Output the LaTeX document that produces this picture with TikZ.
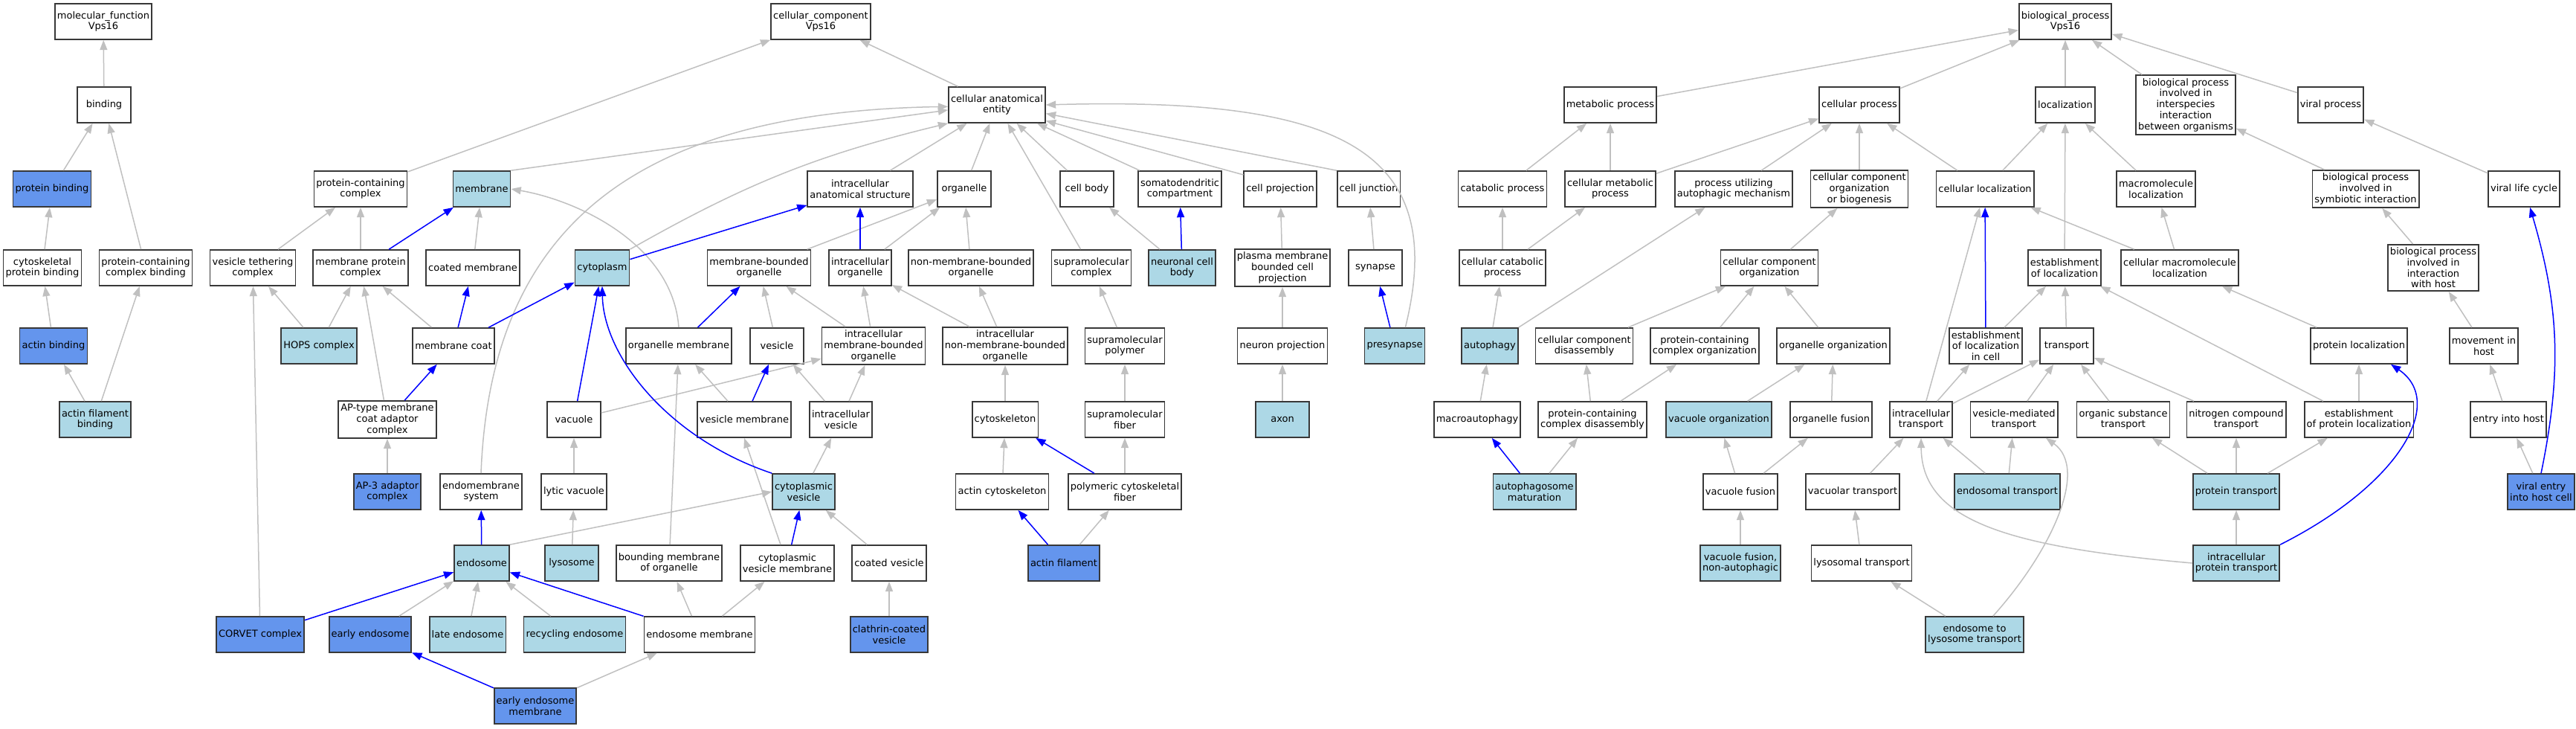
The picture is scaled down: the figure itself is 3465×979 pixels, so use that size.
\documentclass[tikz,border=0pt]{standalone}
\usepackage{fontspec}
\setmainfont{DejaVu Sans}
\usepackage{tikz}
\usetikzlibrary{arrows.meta}
\definecolor{lb}{HTML}{ADD8E6}
\definecolor{cfb}{HTML}{6495ED}
\definecolor{eg}{HTML}{C0C0C0}
\definecolor{eb}{HTML}{0000FF}

\begin{document}
\begin{tikzpicture}[x=0.3mm, y=0.3mm,
	term/.style={draw=black!78, line width=0.5mm, fill=white, text=black, align=center,
		minimum width=21.6mm, minimum height=14.4mm, inner xsep=0.9mm, inner ysep=1.2mm,
		font=\fontsize{11.1}{12.6}\selectfont},
	hit/.style={term, fill=lb},
	ann/.style={term, fill=cfb},
	ge/.style={draw=eg, line width=0.45mm, -{Triangle[length=4mm,width=3mm]}},
	be/.style={ge, draw=eb}]
	\useasboundingbox (0,0) rectangle (3465,-979);
	%molecular function
	\node[term] (mf) at (139,-29) {molecular\_function\\Vps16};
	\node[term] (bind) at (140,-141) {binding};
	\node[ann] (pbind) at (70,-254) {protein binding};
	\node[term] (cspb) at (57,-360) {cytoskeletal\\protein binding};
	\node[term] (pccb) at (196,-360) {protein-containing\\complex binding};
	\node[ann] (abind) at (72,-465) {actin binding};
	\node[hit] (afbind) at (128,-564) {actin filament\\binding};
	%cellular component
	\node[term] (cc) at (1104,-29) {cellular\_component\\Vps16};
	\node[term] (cae) at (1341,-141) {cellular anatomical\\entity};
	\node[term] (pcc) at (485,-254) {protein-containing\\complex};
	\node[hit] (mem) at (648,-254) {membrane};
	\node[term] (ias) at (1157,-254) {intracellular\\anatomical structure};
	\node[term] (org) at (1297,-254) {organelle};
	\node[term] (cbody) at (1462,-254) {cell body};
	\node[term] (somat) at (1587,-254) {somatodendritic\\compartment};
	\node[term] (cproj) at (1722,-254) {cell projection};
	\node[term] (cjunc) at (1841,-254) {cell junction};
	\node[term] (vtc) at (340,-360) {vesicle tethering\\complex};
	\node[term] (mpc) at (485,-360) {membrane protein\\complex};
	\node[term] (cmem) at (636,-360) {coated membrane};
	\node[hit] (cyto) at (810,-360) {cytoplasm};
	\node[term] (mbo) at (1021,-360) {membrane-bounded\\organelle};
	\node[term] (iorg) at (1157,-360) {intracellular\\organelle};
	\node[term] (nmbo) at (1306,-360) {non-membrane-bounded\\organelle};
	\node[term] (smc) at (1468,-360) {supramolecular\\complex};
	\node[hit] (ncb) at (1590,-360) {neuronal cell\\body};
	\node[term] (pmbcp) at (1725,-360) {plasma membrane\\bounded cell\\projection};
	\node[term] (syn) at (1850,-360) {synapse};
	\node[hit] (hops) at (429,-465) {HOPS complex};
	\node[term] (mcoat) at (610,-465) {membrane coat};
	\node[term] (omem) at (913,-465) {organelle membrane};
	\node[term] (ves) at (1045,-465) {vesicle};
	\node[term] (imbo) at (1175,-465) {intracellular\\membrane-bounded\\organelle};
	\node[term] (inmbo) at (1352,-465) {intracellular\\non-membrane-bounded\\organelle};
	\node[term] (smp) at (1513,-465) {supramolecular\\polymer};
	\node[term] (nproj) at (1725,-465) {neuron projection};
	\node[hit] (presyn) at (1876,-465) {presynapse};
	\node[term] (apt) at (521,-564) {AP-type membrane\\coat adaptor\\complex};
	\node[term] (vac) at (772,-564) {vacuole};
	\node[term] (vmem) at (1001,-564) {vesicle membrane};
	\node[term] (ives) at (1131,-564) {intracellular\\vesicle};
	\node[term] (csk) at (1352,-564) {cytoskeleton};
	\node[term] (smf) at (1513,-564) {supramolecular\\fiber};
	\node[hit] (axon) at (1725,-564) {axon};
	\node[ann] (ap3) at (521,-661) {AP-3 adaptor\\complex};
	\node[term] (ems) at (647,-661) {endomembrane\\system};
	\node[term] (lvac) at (772,-661) {lytic vacuole};
	\node[hit] (cves) at (1081,-661) {cytoplasmic\\vesicle};
	\node[term] (acsk) at (1348,-661) {actin cytoskeleton};
	\node[term] (pcf) at (1513,-661) {polymeric cytoskeletal\\fiber};
	\node[hit] (endo) at (648,-757) {endosome};
	\node[hit] (lyso) at (769,-757) {lysosome};
	\node[term] (bmo) at (900,-757) {bounding membrane\\of organelle};
	\node[term] (cvm) at (1059,-757) {cytoplasmic\\vesicle membrane};
	\node[term] (coves) at (1196,-757) {coated vesicle};
	\node[ann] (afil) at (1431,-757) {actin filament};
	\node[ann] (corvet) at (350,-853) {CORVET complex};
	\node[ann] (eendo) at (498,-853) {early endosome};
	\node[hit] (lendo) at (629,-853) {late endosome};
	\node[hit] (rendo) at (773,-853) {recycling endosome};
	\node[term] (emem) at (941,-853) {endosome membrane};
	\node[ann] (ccves) at (1196,-853) {clathrin-coated\\vesicle};
	\node[ann] (eemem) at (720,-949) {early endosome\\membrane};
	%biological process
	\node[term] (bp) at (2778,-29) {biological\_process\\Vps16};
	\node[term] (metp) at (2166,-141) {metabolic process};
	\node[term] (cellp) at (2501,-141) {cellular process};
	\node[term] (loc) at (2778,-141) {localization};
	\node[term] (bpis) at (2940,-141) {biological process\\involved in\\interspecies\\interaction\\between organisms};
	\node[term] (virp) at (3135,-141) {viral process};
	\node[term] (catp) at (2021,-254) {catabolic process};
	\node[term] (cmetp) at (2166,-254) {cellular metabolic\\process};
	\node[term] (puam) at (2332,-254) {process utilizing\\autophagic mechanism};
	\node[term] (ccob) at (2501,-254) {cellular component\\organization\\or biogenesis};
	\node[term] (cloc) at (2670,-254) {cellular localization};
	\node[term] (mloc) at (2900,-254) {macromolecule\\localization};
	\node[term] (bpsi) at (3182,-254) {biological process\\involved in\\symbiotic interaction};
	\node[term] (vlc) at (3395,-254) {viral life cycle};
	\node[term] (ccatp) at (2021,-360) {cellular catabolic\\process};
	\node[term] (cco) at (2380,-360) {cellular component\\organization};
	\node[term] (eloc) at (2777,-360) {establishment\\of localization};
	\node[term] (cmloc) at (2932,-360) {cellular macromolecule\\localization};
	\node[term] (bpih) at (3273,-360) {biological process\\involved in\\interaction\\with host};
	\node[hit] (autoph) at (2004,-465) {autophagy};
	\node[term] (ccd) at (2131,-465) {cellular component\\disassembly};
	\node[term] (pcco) at (2293,-465) {protein-containing\\complex organization};
	\node[term] (oorg) at (2466,-465) {organelle organization};
	\node[term] (eloccell) at (2671,-465) {establishment\\of localization\\in cell};
	\node[term] (transp) at (2780,-465) {transport};
	\node[term] (ploc) at (3173,-465) {protein localization};
	\node[term] (mih) at (3341,-465) {movement in\\host};
	\node[term] (macro) at (1987,-564) {macroautophagy};
	\node[term] (pccd) at (2142,-564) {protein-containing\\complex disassembly};
	\node[hit] (vorg) at (2312,-564) {vacuole organization};
	\node[term] (ofus) at (2463,-564) {organelle fusion};
	\node[term] (itr) at (2584,-564) {intracellular\\transport};
	\node[term] (vmt) at (2709,-564) {vesicle-mediated\\transport};
	\node[term] (ost) at (2856,-564) {organic substance\\transport};
	\node[term] (nct) at (3008,-564) {nitrogen compound\\transport};
	\node[term] (epl) at (3173,-564) {establishment\\of protein localization};
	\node[term] (eih) at (3374,-564) {entry into host};
	\node[hit] (apm) at (2064,-661) {autophagosome\\maturation};
	\node[term] (vfus) at (2341,-661) {vacuole fusion};
	\node[term] (vtr) at (2492,-661) {vacuolar transport};
	\node[hit] (etr) at (2700,-661) {endosomal transport};
	\node[hit] (ptr) at (3008,-661) {protein transport};
	\node[ann] (vehc) at (3418,-661) {viral entry\\into host cell};
	\node[hit] (vfna) at (2341,-757) {vacuole fusion,\\non-autophagic};
	\node[term] (ltr) at (2504,-757) {lysosomal transport};
	\node[hit] (iptr) at (3008,-757) {intracellular\\protein transport};
	\node[hit] (eltt) at (2656,-853) {endosome to\\lysosome transport};
	%grey is_a edges
	\foreach \a/\b in {bind/mf, pbind/bind, pccb/bind, cspb/pbind, abind/cspb, afbind/abind, afbind/pccb,
		cae/cc, pcc/cc, ias/cae, org/cae, smc/cae, cbody/cae, somat/cae, cproj.159/cae.-18, cjunc.north west/cae.-10,
		mpc/pcc, vtc/pcc, cmem/mem, hops/vtc, hops/mpc, mcoat/mpc, apt/mpc, ap3/apt, corvet/vtc,
		mbo/org, iorg/org, nmbo/org, ves/mbo, imbo/mbo, imbo/iorg, inmbo/iorg, inmbo/nmbo,
		vac/imbo, vmem/omem, ives/ves, ives/imbo, csk/inmbo, lvac/vac, cves/ives, acsk/csk, lyso/lvac,
		bmo/omem, cvm.110/vmem.south, coves/cves, endo.north east/cves.west, emem/bmo, emem/cvm, rendo/endo,
		ccves/coves, eemem/emem, eendo/endo, lendo/endo, smp/smc, ncb/cbody, pmbcp/cproj, syn/cjunc,
		nproj/pmbcp, smf/smp, axon/nproj, pcf/smf, afil/pcf}
	\draw[ge] (\a) -- (\b);
	\foreach \a/\b in {metp/bp, cellp/bp, loc/bp, bpis/bp, virp.160/bp.-15, catp/metp, cmetp/metp, cmetp/cellp,
		puam/cellp, ccob/cellp, cloc/cellp, cloc/loc, ccatp/catp, ccatp/cmetp, autoph/puam, autoph/ccatp,
		cco/ccob, ccd/cco, pcco/cco, oorg/cco, eloccell/eloc, mloc/loc, eloc/loc, cmloc/cloc, cmloc/mloc,
		transp/eloc, itr/cloc, itr/eloccell, itr/transp, vmt/transp, ost/transp, nct/transp, epl/eloc, epl/ploc,
		ploc/cmloc, bpsi/bpis, bpih/bpsi, mih/bpih, vlc/virp, eih/mih, vehc/eih, pccd/ccd, pccd/pcco,
		vorg/oorg, ofus/oorg, apm/pccd, macro/autoph, vfus/vorg, vfus/ofus, vfna/vfus, vtr/itr, ltr/vtr,
		eltt/ltr, etr/itr, etr/vmt, iptr/ptr, ptr/ost, ptr/nct, ptr/epl}
	\draw[ge] (\a) -- (\b);
	%grey curves
	\draw[ge] (mem.north east) -- (cae.186);
	\draw[ge] (ems.north) .. controls (660,-300) and (860,-150) .. (cae.182);
	\draw[ge] (cyto.north east) to[bend left=8] (cae.south west);
	\draw[ge] (omem.north) .. controls (905,-330) and (780,-270) .. (mem.east);
	\draw[ge] (presyn.60) .. controls (1950,-200) and (1800,-130) .. (cae.east);
	\draw[ge] (eltt.45) .. controls (2760,-740) and (2810,-630) .. (vmt.-30);
	\draw[ge] (iptr.west) .. controls (2700,-735) and (2585,-700) .. (itr.south);
	%blue edges
	\foreach \a/\b in {mpc/mem, mcoat/cmem, apt/mcoat, mcoat/cyto, cyto/ias, iorg/ias, omem/mbo, vac/cyto,
		vmem/ves, cvm/cves, endo/ems, emem/endo, corvet/endo, eemem/eendo, ncb/somat, presyn/syn,
		pcf/csk, afil/acsk, apm/macro, eloccell/cloc}
	\draw[be] (\a) -- (\b);
	\draw[be] (cves.north west) .. controls (900,-590) and (812,-480) .. (cyto.south);
	\draw[be] (iptr.north east) .. controls (3230,-650) and (3290,-540) .. (ploc.-30);
	\draw[be] (vehc.north) to[bend right=14] (vlc.-72);
\end{tikzpicture}
\end{document}
